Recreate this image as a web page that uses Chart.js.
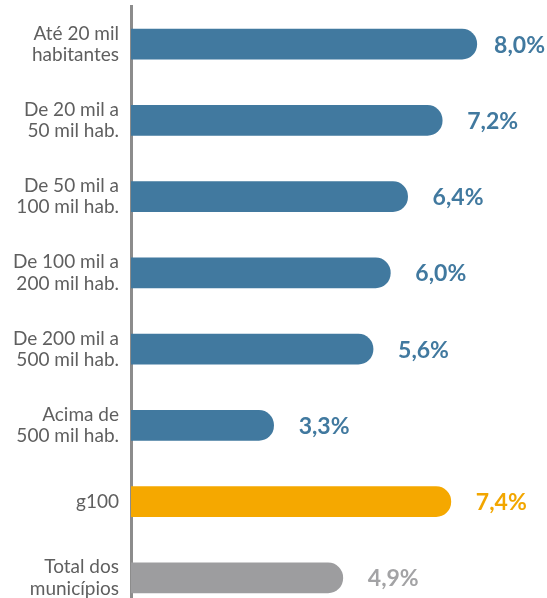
<!DOCTYPE html>
<html lang="pt">
<head>
    <meta charset="UTF-8">
    <title>Participação por porte de município</title>
    <script src="https://cdn.jsdelivr.net/npm/chart.js"></script>
    <style>
        html, body { margin: 0; padding: 0; background: #fff; height: 598px; overflow: hidden; }
        #wrap { width: 547px; height: 616px; position: relative; }
    </style>
</head>
<body>
    <div id="wrap"><canvas id="porteChart"></canvas></div>

    <script>
        // categorias (linhas do eixo) e valores em %
        const categorias = [
            ['Até 20 mil', 'habitantes'],
            ['De 20 mil a', '50 mil hab.'],
            ['De 50 mil a', '100 mil hab.'],
            ['De 100 mil a', '200 mil hab.'],
            ['De 200 mil a', '500 mil hab.'],
            ['Acima de', '500 mil hab.'],
            'g100',
            ['Total dos', 'municípios']
        ];
        const valores = [8.0, 7.2, 6.4, 6.0, 5.6, 3.3, 7.4, 4.9];
        const rotulos = ['8,0%', '7,2%', '6,4%', '6,0%', '5,6%', '3,3%', '7,4%', '4,9%'];

        const azul = '#41799f';
        const corBarras = [azul, azul, azul, azul, azul, azul, '#f5a800', '#9d9d9f'];
        const corRotulos = [azul, azul, azul, azul, azul, azul, '#f2a600', '#a3a3a5'];

        // escreve o valor à direita de cada barra
        const valueLabels = {
            id: 'valueLabels',
            afterDatasetsDraw(chart) {
                const ctx = chart.ctx;
                const meta = chart.getDatasetMeta(0);
                ctx.save();
                ctx.font = '700 23px Lato';
                ctx.textBaseline = 'middle';
                ctx.textAlign = 'left';
                meta.data.forEach((bar, i) => {
                    const txt = rotulos[i];
                    const w = ctx.measureText(txt).width;
                    let x = bar.x + 25;
                    if (x + w > chart.width - 2) x = chart.width - 2 - w;
                    ctx.fillStyle = corRotulos[i];
                    ctx.fillText(txt, x, bar.y + 1);
                });
                ctx.restore();
            }
        };

        const ctx = document.getElementById('porteChart').getContext('2d');
        new Chart(ctx, {
            type: 'bar',
            data: {
                labels: categorias,
                datasets: [{
                    data: valores,
                    backgroundColor: corBarras,
                    barThickness: 30,
                    borderRadius: 15,
                    borderSkipped: 'start'
                }]
            },
            options: {
                indexAxis: 'y',
                responsive: true,
                maintainAspectRatio: false,
                animation: false,
                layout: { padding: { top: 6, right: 27, bottom: 0, left: 0 } },
                plugins: {
                    legend: { display: false },
                    tooltip: { enabled: false }
                },
                scales: {
                    x: {
                        display: false,
                        min: 0,
                        max: 9
                    },
                    y: {
                        grid: { display: false, drawTicks: false },
                        border: { display: true, color: '#8c8c8c', width: 3 },
                        ticks: {
                            padding: 12,
                            color: '#5f5f5f',
                            font: { family: 'Lato', size: 19, lineHeight: 1.12 }
                        },
                        afterFit(scale) {
                            scale.width = 131;
                            scale.paddingTop = 0;
                            scale.paddingBottom = 0;
                        }
                    }
                }
            },
            plugins: [valueLabels]
        });
    </script>
</body>
</html>
